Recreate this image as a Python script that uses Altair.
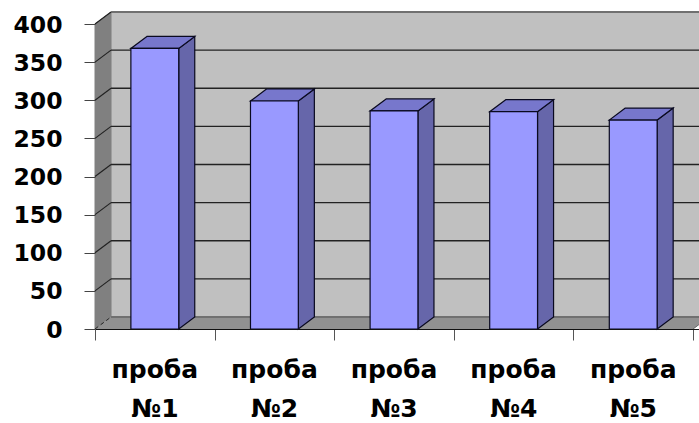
import altair as alt
import pandas as pd

categories = ["проба\n№1", "проба\n№2", "проба\n№3", "проба\n№4", "проба\n№5"]
values = [368, 299, 286, 285, 274]
y_ticks = [0, 50, 100, 150, 200, 250, 300, 350, 400]
x_ticks = [0, 1, 2, 3, 4, 5]

# Oblique projection of the depth axis, in data units
DEPTH_X = 0.134
DEPTH_Y = 15.75
X_MAX = 5.05
Y_MAX = 400 + DEPTH_Y
BAR_HALF = 0.2

FONT = "DejaVu Sans"
GRID = "#222222"
WALL_EDGE = "#808080"
BAR_EDGE = "#0a0a20"

x_scale = alt.Scale(domain=[0, X_MAX], nice=False, zero=False)
y_scale = alt.Scale(domain=[0, Y_MAX], nice=False, zero=False)

# Every layer shares one axis definition so the merged axes keep their settings
x_axis = alt.Axis(
    values=x_ticks, labels=False, title=None, grid=False, tickSize=11, tickColor="#555555",
    tickWidth=1, domainColor="#111111", domainWidth=1.2, zindex=1,
)
y_axis = alt.Axis(
    values=y_ticks, title=None, grid=False, domain=False, tickSize=11, tickColor="#444444",
    tickWidth=1, labelFont=FONT, labelFontWeight="bold", labelFontSize=23.5, labelColor="#000000",
    labelPadding=22, labelOffset=1, zindex=1,
)


def X(field="x"):
    return alt.X(f"{field}:Q", scale=x_scale, axis=x_axis)


def Y(field="y"):
    return alt.Y(f"{field}:Q", scale=y_scale, axis=y_axis)


# Back wall
wall = alt.Chart(pd.DataFrame({"x": [DEPTH_X], "x2": [X_MAX + 1], "y": [DEPTH_Y], "y2": [Y_MAX]})).mark_rect(
    color="#c0c0c0", clip=True
).encode(x=X(), x2="x2:Q", y=Y(), y2="y2:Q")

# Left side wall
side_wall = alt.Chart(pd.DataFrame({"x": [0, DEPTH_X], "y": [0, DEPTH_Y], "y2": [400, Y_MAX]})).mark_area(
    color="#808080", stroke=WALL_EDGE, strokeWidth=1
).encode(x=X(), y=Y(), y2="y2:Q")

# Floor
floor = alt.Chart(pd.DataFrame({"y": [0, DEPTH_Y], "x": [0, DEPTH_X], "x2": [5, 5 + DEPTH_X]})).mark_area(
    color="#919191", orient="horizontal", clip=True
).encode(y=Y(), x=X(), x2="x2:Q")

# Gridlines across the back wall and down the side wall
grid_back = pd.DataFrame({"k": y_ticks})
grid_back["y"] = grid_back["k"] + DEPTH_Y
grid_back["x"] = DEPTH_X
grid_back["x2"] = X_MAX
inner = grid_back[(grid_back.k > 0) & (grid_back.k < 400)]
outer = grid_back[(grid_back.k == 0) | (grid_back.k == 400)]

grid_dark = alt.Chart(inner).mark_rule(color=GRID, strokeWidth=1.3).encode(x=X(), x2="x2:Q", y=Y())
grid_light = alt.Chart(outer).mark_rule(color="#707070", strokeWidth=2).encode(x=X(), x2="x2:Q", y=Y())

diag_rows = []
for k in y_ticks:
    diag_rows.append({"k": k, "x": 0, "y": k})
    diag_rows.append({"k": k, "x": DEPTH_X, "y": k + DEPTH_Y})
diag = pd.DataFrame(diag_rows)
grid_diag = alt.Chart(diag[diag.k > 0]).mark_line(color=GRID, strokeWidth=1.2).encode(
    x=X(), y=Y(), detail="k:N"
)
floor_diag = alt.Chart(diag[diag.k == 0]).mark_line(color=GRID, strokeWidth=1, strokeDash=[4, 3]).encode(
    x=X(), y=Y()
)
right_edge = alt.Chart(pd.DataFrame({"x": [5, 5 + DEPTH_X], "y": [0, DEPTH_Y]})).mark_line(
    color="#666666", strokeWidth=1, clip=True
).encode(x=X(), y=Y())

# Bars: side face, top face, front face
side_rows, top_rows, front_rows = [], [], []
for i, v in enumerate(values):
    left = i + 0.5 - BAR_HALF
    right = i + 0.5 + BAR_HALF
    front_rows.append({"bar": i, "x": left, "x2": right, "y": 0, "y2": v})
    side_rows.append({"bar": i, "x": right, "y": 0, "y2": v})
    side_rows.append({"bar": i, "x": right + DEPTH_X, "y": DEPTH_Y, "y2": v + DEPTH_Y})
    top_rows.append({"bar": i, "y": v, "x": left, "x2": right})
    top_rows.append({"bar": i, "y": v + DEPTH_Y, "x": left + DEPTH_X, "x2": right + DEPTH_X})

bar_side = alt.Chart(pd.DataFrame(side_rows)).mark_area(
    color="#6666aa", stroke=BAR_EDGE, strokeWidth=1.2
).encode(x=X(), y=Y(), y2="y2:Q", detail="bar:N")
bar_top = alt.Chart(pd.DataFrame(top_rows)).mark_area(
    color="#7777cc", stroke=BAR_EDGE, strokeWidth=1.2, orient="horizontal"
).encode(y=Y(), x=X(), x2="x2:Q", detail="bar:N")
bar_front = alt.Chart(pd.DataFrame(front_rows)).mark_rect(
    color="#9999ff", stroke=BAR_EDGE, strokeWidth=1.2
).encode(x=X(), x2="x2:Q", y=Y(), y2="y2:Q")

# Category labels sit under the axis, two lines each
labels = alt.Chart(pd.DataFrame({"x": [i + 0.5 for i in range(5)], "label": categories})).mark_text(
    font=FONT, fontWeight="bold", fontSize=25, color="#000000", lineBreak="\n", lineHeight=38.5,
    baseline="middle", align="center",
).encode(x=X(), y=alt.value(358), text="label:N")

chart = alt.layer(
    wall, side_wall, floor, grid_light, grid_dark, grid_diag, floor_diag, right_edge,
    bar_side, bar_top, bar_front, labels,
).properties(
    width=604,
    height=317,
    padding={"left": 95, "top": 12, "right": 0, "bottom": 94},
    autosize=alt.AutoSizeParams(type="none"),
    background="#ffffff",
).configure_view(stroke=None)

chart.save("out.html", embed_options={"renderer": "svg", "actions": False})
